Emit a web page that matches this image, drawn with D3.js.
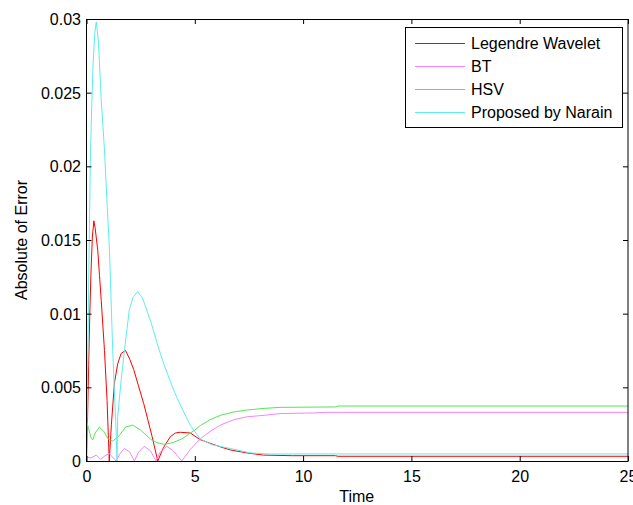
<!DOCTYPE html>
<html>
<head>
<meta charset="utf-8">
<script src="https://cdn.jsdelivr.net/npm/d3@7"></script>
<style>
    body { margin: 0; background: #fff; }
    svg { display: block; font-family: "Liberation Sans", Arial, sans-serif; }
</style>
</head>
<body>
<div id="chart"></div>
<script>
// Series: [time, absolute error]
const legendreWavelet = [
    [0, 0], [0.05, 0.003], [0.1, 0.0065], [0.15, 0.0098], [0.2, 0.0125], [0.27, 0.0152],
    [0.34, 0.0163], [0.4, 0.0158], [0.52, 0.0143], [0.6, 0.0126], [0.68, 0.0109],
    [0.83, 0.0075], [0.95, 0.0041], [1.05, 0], [1.15, 0.0025], [1.29, 0.0053],
    [1.44, 0.0066], [1.6, 0.0073], [1.8, 0.0075], [2.0, 0.0069], [2.18, 0.0062],
    [2.4, 0.0051], [2.64, 0.0039], [2.85, 0.0027], [3.03, 0.00165], [3.29, 0],
    [3.55, 0.0009], [3.87, 0.00165], [4.1, 0.0019], [4.33, 0.00195], [4.79, 0.0019],
    [5.25, 0.00145], [5.71, 0.0012], [6.2, 0.00095], [6.64, 0.00075], [7.4, 0.00055],
    [8.17, 0.0004], [9.5, 0.00036], [11.5, 0.00036], [11.6, 0.00032], [25, 0.00032]
];

const bt = [
    [0, 0.0003], [0.2, 0.0002], [0.45, 0.0004], [0.65, 0.0001], [0.85, 0.00035],
    [1.06, 0.0005], [1.3, 0.0001], [1.37, 0], [1.55, 0.0005], [1.75, 0.00086],
    [2.0, 0.0006], [2.21, 0], [2.4, 0.0006], [2.67, 0.001], [2.95, 0.0007],
    [3.21, 0], [3.4, 0.0006], [3.7, 0.001], [4.0, 0.0007], [4.4, 0],
    [4.8, 0.0008], [5.25, 0.0015], [5.7, 0.002], [6.18, 0.00244], [6.8, 0.0028],
    [7.4, 0.003], [8.2, 0.0031], [8.94, 0.00322], [10.46, 0.00326], [11, 0.0033],
    [25, 0.0033]
];

const hsv = [
    [0, 0.0027], [0.1, 0.0022], [0.2, 0.0016], [0.29, 0.00143], [0.4, 0.0019],
    [0.6, 0.0023], [0.8, 0.002], [1.0, 0.0015], [1.21, 0.00135], [1.5, 0.0017],
    [1.8, 0.0023], [2.13, 0.00244], [2.5, 0.0021], [2.98, 0.00145], [3.3, 0.00122],
    [3.6, 0.00113], [4.0, 0.00125], [4.4, 0.0015], [5.0, 0.0021], [5.25, 0.0024],
    [5.7, 0.0028], [6.18, 0.0031], [6.8, 0.00333], [7.4, 0.00346], [8.2, 0.00357],
    [8.94, 0.00364], [11.5, 0.00367], [11.6, 0.00373], [25, 0.00373]
];

const proposedNarain = [
    [0, 0], [0.05, 0.006], [0.1, 0.012], [0.18, 0.0206], [0.24, 0.024], [0.3, 0.0268],
    [0.38, 0.029], [0.45, 0.0298], [0.55, 0.0285], [0.68, 0.0245], [0.83, 0.0211],
    [0.95, 0.0175], [1.06, 0.0143], [1.21, 0.0075], [1.37, 0.0019], [1.41, 0],
    [1.44, 0.003], [1.6, 0.0055], [1.75, 0.0075], [1.98, 0.0103], [2.15, 0.0111],
    [2.36, 0.0115], [2.6, 0.011], [2.98, 0.0094], [3.3, 0.0078], [3.59, 0.0065],
    [4.0, 0.0049], [4.33, 0.0038], [4.8, 0.0024], [5.25, 0.0015], [5.8, 0.0011],
    [6.64, 0.00085], [7.56, 0.00055], [8.5, 0.00047], [10, 0.00048], [25, 0.00048]
];

const seriesNames = ['Legendre Wavelet', 'BT', 'HSV', 'Proposed by Narain'];
const seriesData = [legendreWavelet, bt, hsv, proposedNarain];
const seriesColors = ['#ff0000', '#f884f8', '#55e655', '#5ceeee'];

const xTicks = [0, 5, 10, 15, 20, 25];
const yTicks = [0, 0.005, 0.01, 0.015, 0.02, 0.025, 0.03];

const width = 633;
const height = 505;
const plot = { left: 86.5, right: 628, top: 19, bottom: 461 };

const svg = d3.select('#chart').append('svg')
    .attr('width', width)
    .attr('height', height);

const x = d3.scaleLinear().domain([0, 25]).range([plot.left, plot.right]);
const y = d3.scaleLinear().domain([0, 0.03]).range([plot.bottom, plot.top]);

// Curves first, box and ticks drawn over them
const line = d3.line().x(d => x(d[0])).y(d => y(d[1]));

svg.append('g')
    .selectAll('path')
    .data(seriesData)
    .join('path')
    .attr('fill', 'none')
    .attr('stroke', (d, i) => seriesColors[i])
    .attr('stroke-width', 1)
    .attr('d', line);

const fmtY = d => d === 0 ? '0' : String(+d.toFixed(3));

// Inward ticks on all four sides, labels only on bottom/left
const axisDefs = [
    { axis: d3.axisBottom(x).tickValues(xTicks).tickFormat(d => d), pos: `translate(0,${plot.bottom})`, labels: true },
    { axis: d3.axisTop(x).tickValues(xTicks).tickFormat(''), pos: `translate(0,${plot.top})`, labels: false },
    { axis: d3.axisLeft(y).tickValues(yTicks).tickFormat(fmtY), pos: `translate(${plot.left},0)`, labels: true },
    { axis: d3.axisRight(y).tickValues(yTicks).tickFormat(''), pos: `translate(${plot.right},0)`, labels: false }
];

axisDefs.forEach(a => {
    const g = svg.append('g')
        .attr('transform', a.pos)
        .call(a.axis.tickSizeInner(-5).tickSizeOuter(0).tickPadding(0));
    g.select('.domain').remove();
    g.selectAll('line').attr('stroke', '#000');
    g.selectAll('text')
        .attr('fill', '#000')
        .attr('font-size', '16px')
        .attr('font-family', '"Liberation Sans", Arial, sans-serif');
});

// Position tick labels the way MATLAB does
svg.selectAll('g').filter(function () {
    return this.getAttribute('transform') === `translate(0,${plot.bottom})`;
}).selectAll('text').attr('y', 21).attr('dy', 0);

svg.selectAll('g').filter(function () {
    return this.getAttribute('transform') === `translate(${plot.left},0)`;
}).selectAll('text').attr('x', -5.5).attr('dy', '0.35em');

// Plot box
svg.append('rect')
    .attr('x', plot.left)
    .attr('y', plot.top + 0.5)
    .attr('width', plot.right - plot.left)
    .attr('height', plot.bottom - plot.top)
    .attr('fill', 'none')
    .attr('stroke', '#000')
    .attr('stroke-width', 1);

// Axis titles
svg.append('text')
    .attr('x', (plot.left + plot.right) / 2 - 0.5)
    .attr('y', 501.5)
    .attr('text-anchor', 'middle')
    .attr('font-size', '16px')
    .text('Time');

svg.append('text')
    .attr('transform', `translate(26.5,${(plot.top + plot.bottom) / 2}) rotate(-90)`)
    .attr('text-anchor', 'middle')
    .attr('font-size', '16px')
    .text('Absolute of Error');

// Legend
const legend = svg.append('g');

legend.append('rect')
    .attr('x', 405.5)
    .attr('y', 27.5)
    .attr('width', 217)
    .attr('height', 100)
    .attr('fill', '#fff')
    .attr('stroke', '#000');

seriesNames.forEach((name, i) => {
    const rowY = 43.5 + i * 23;
    legend.append('line')
        .attr('x1', 415)
        .attr('x2', 465)
        .attr('y1', rowY)
        .attr('y2', rowY)
        .attr('stroke', seriesColors[i])
        .attr('stroke-width', 1);
    legend.append('text')
        .attr('x', 471)
        .attr('y', rowY + 5.8)
        .attr('font-size', '16px')
        .text(name);
});
</script>
</body>
</html>
